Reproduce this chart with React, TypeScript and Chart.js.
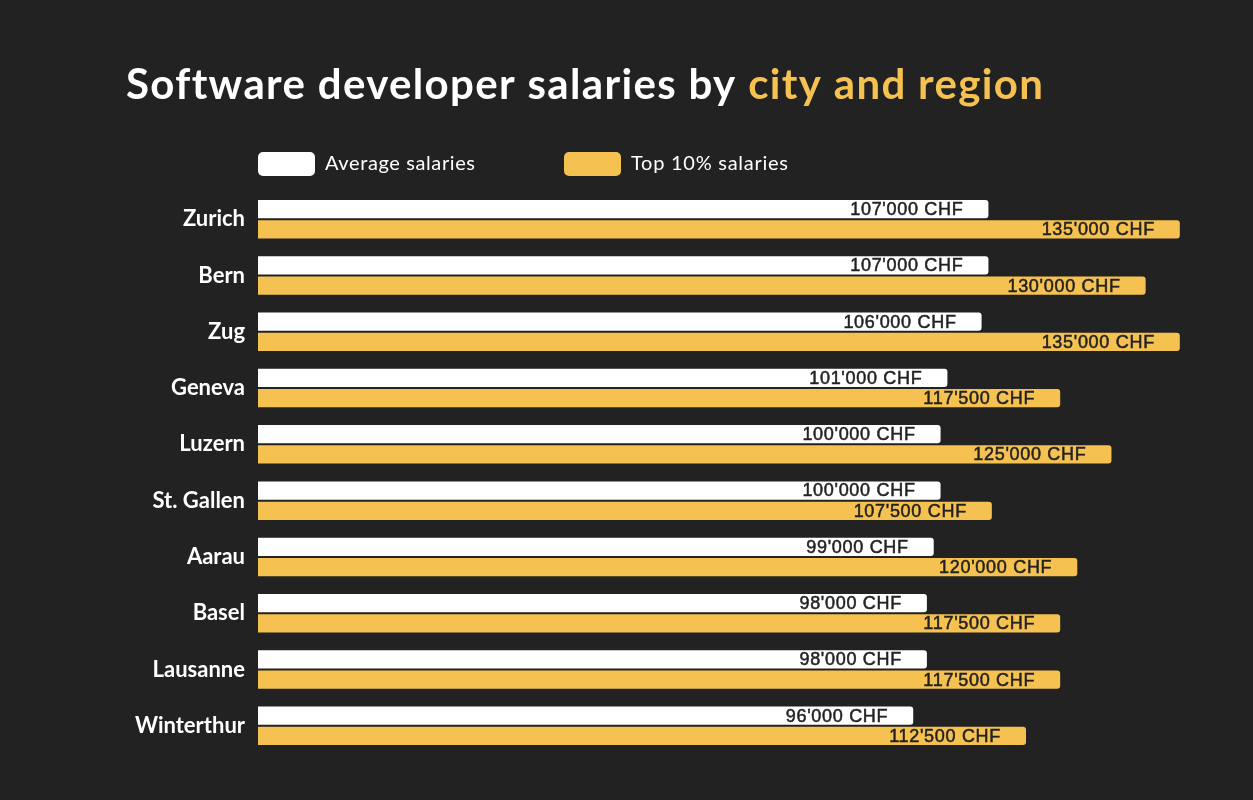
import React, { useEffect, useRef } from "react";
import { Chart, registerables } from "chart.js";

Chart.register(...registerables);

const cities = ["Zurich", "Bern", "Zug", "Geneva", "Luzern", "St. Gallen", "Aarau", "Basel", "Lausanne", "Winterthur"];
const averageSalaries = [107000, 107000, 106000, 101000, 100000, 100000, 99000, 98000, 98000, 96000];
const topSalaries = [135000, 130000, 135000, 117500, 125000, 107500, 120000, 117500, 117500, 112500];
const seriesNames = ["Average salaries", "Top 10% salaries"];
const titleParts = ["Software developer salaries by ", "city and region"];

const BG = "#222222";
const WHITE = "#ffffff";
const YELLOW = "#F5C150";
const FONT = "Lato, 'Noto Sans', sans-serif";

function fmt(v: number): string {
  const s = Math.round(v).toString();
  return s.replace(/\B(?=(\d{3})+(?!\d))/g, "'") + " CHF";
}

function fitSpacing(ctx: any, text: string, target: number): number {
  ctx.letterSpacing = "0px";
  const w = ctx.measureText(text).width;
  return Math.max(0, (target - w) / Math.max(1, text.length - 1));
}

const decorPlugin = {
  id: "decor",
  beforeDraw(chart: any) {
    const ctx = chart.ctx;
    ctx.save();
    ctx.fillStyle = BG;
    ctx.fillRect(0, 0, chart.width, chart.height);
    ctx.restore();
  },
  afterDraw(chart: any) {
    const ctx = chart.ctx;
    ctx.save();
    // title
    ctx.font = `bold 42px ${FONT}`;
    ctx.textBaseline = "alphabetic";
    ctx.textAlign = "left";
    const full = titleParts.join("");
    const sp = fitSpacing(ctx, full, 916);
    ctx.letterSpacing = `${sp}px`;
    let x = 126;
    ctx.fillStyle = WHITE;
    ctx.fillText(titleParts[0], x, 99);
    x += ctx.measureText(titleParts[0]).width;
    ctx.fillStyle = YELLOW;
    ctx.fillText(titleParts[1], x, 99);

    // legend
    const legendItems = [
      { label: seriesNames[0], color: WHITE, x: 258, w: 150 },
      { label: seriesNames[1], color: YELLOW, x: 564, w: 157 },
    ];
    ctx.font = `20px ${FONT}`;
    ctx.textBaseline = "middle";
    for (const it of legendItems) {
      ctx.letterSpacing = "0px";
      ctx.fillStyle = it.color;
      ctx.beginPath();
      (ctx as any).roundRect(it.x, 152, 57, 24, 5);
      ctx.fill();
      ctx.fillStyle = WHITE;
      ctx.letterSpacing = `${fitSpacing(ctx, it.label, it.w)}px`;
      ctx.fillText(it.label, it.x + 67, 164);
    }

    // value labels
    ctx.font = `18px 'Liberation Sans', Arial, sans-serif`;
    ctx.letterSpacing = "0.7px";
    ctx.textAlign = "right";
    ctx.textBaseline = "middle";
    ctx.fillStyle = "#222222";
    ctx.strokeStyle = "#222222";
    ctx.lineWidth = 0.5;
    chart.data.datasets.forEach((ds: any, di: number) => {
      const meta = chart.getDatasetMeta(di);
      meta.data.forEach((bar: any, i: number) => {
        const t = fmt(ds.data[i]);
        ctx.fillText(t, bar.x - 26, bar.y + 1);
        ctx.strokeText(t, bar.x - 26, bar.y + 1);
      });
    });
    ctx.restore();
  },
};

export default function App() {
  const ref = useRef<HTMLCanvasElement | null>(null);
  useEffect(() => {
    document.body.style.margin = "0";
    document.body.style.background = BG;
    const chart = new Chart(ref.current as HTMLCanvasElement, {
      type: "bar",
      data: {
        labels: cities,
        datasets: [
          {
            label: seriesNames[0],
            data: averageSalaries,
            backgroundColor: WHITE,
            borderColor: BG,
            borderWidth: 1,
            borderSkipped: "start",
            borderRadius: 4,
            barPercentage: 1,
            categoryPercentage: 0.72,
          },
          {
            label: seriesNames[1],
            data: topSalaries,
            backgroundColor: YELLOW,
            borderColor: BG,
            borderWidth: 1,
            borderSkipped: "start",
            borderRadius: 4,
            barPercentage: 1,
            categoryPercentage: 0.72,
          },
        ],
      },
      options: {
        indexAxis: "y",
        responsive: false,
        animation: false,
        layout: { padding: { top: 191, bottom: 46, left: 0, right: 38 } },
        plugins: {
          legend: { display: false },
          title: { display: false },
          tooltip: { enabled: false },
        },
        scales: {
          x: { display: false, min: 0, max: 140000 },
          y: {
            grid: { display: false, drawTicks: false },
            border: { display: false },
            ticks: {
              color: WHITE,
              padding: 13,
              font: { family: FONT, size: 22, weight: "bold" },
            },
            afterFit(scale: any) {
              scale.width = 258;
            },
          },
        },
      },
      plugins: [decorPlugin],
    } as any);
    return () => chart.destroy();
  }, []);
  return (
    <div style={{ width: 1253, height: 800, background: BG }}>
      <canvas ref={ref} width={1253} height={800} />
    </div>
  );
}
